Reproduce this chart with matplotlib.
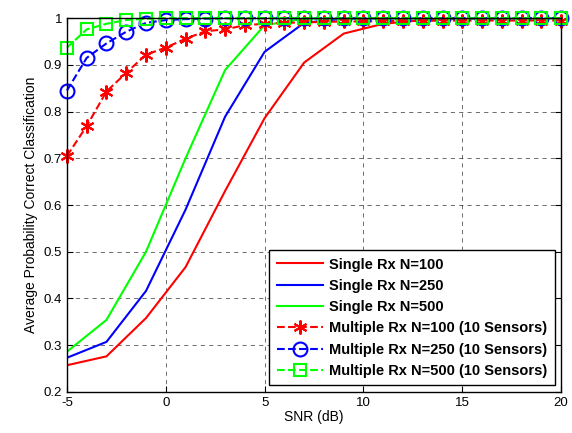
import numpy as np
import matplotlib
matplotlib.use("Agg")
import matplotlib.pyplot as plt

plt.rcParams["font.family"] = ["Liberation Sans", "DejaVu Sans"]
plt.rcParams["axes.unicode_minus"] = False

# single receiver curves, every 2 dB
snr_single = [-5, -3, -1, 1, 3, 5, 7, 9, 11, 13, 15, 17, 19]
single_100 = [0.257, 0.276, 0.358, 0.467, 0.630, 0.786, 0.905, 0.967, 0.988, 0.996, 0.999, 1.0, 1.0]
single_250 = [0.273, 0.307, 0.416, 0.590, 0.789, 0.928, 0.990, 0.999, 1.0, 1.0, 1.0, 1.0, 1.0]
single_500 = [0.286, 0.354, 0.500, 0.700, 0.889, 0.985, 0.999, 1.0, 1.0, 1.0, 1.0, 1.0, 1.0]

# multiple receivers (10 sensors), every 1 dB
snr_multi = list(range(-5, 21))
multi_100 = [0.705, 0.769, 0.843, 0.883, 0.922, 0.937, 0.956, 0.972, 0.976, 0.985, 0.988,
             0.990, 0.991, 0.992, 0.993, 0.993, 0.994, 0.994, 0.994, 0.995, 0.995,
             0.995, 0.995, 0.995, 0.995, 0.995]
multi_250 = [0.845, 0.915, 0.946, 0.971, 0.990, 0.996, 0.998, 0.999] + [1.0] * 18
multi_500 = [0.937, 0.976, 0.988, 0.996, 0.999] + [1.0] * 21

labels = ["Single Rx N=100", "Single Rx N=250", "Single Rx N=500",
          "Multiple Rx N=100 (10 Sensors)", "Multiple Rx N=250 (10 Sensors)",
          "Multiple Rx N=500 (10 Sensors)"]

red, blue, green = "#ff0000", "#0000ff", "#00ff00"
lws = 1.5

fig = plt.figure(figsize=(5.72, 4.33), dpi=100)
ax = fig.add_axes([0.117, 0.095, 0.864, 0.863])

ax.plot(snr_single, single_100, color=red, lw=lws, label=labels[0])
ax.plot(snr_single, single_250, color=blue, lw=lws, label=labels[1])
ax.plot(snr_single, single_500, color=green, lw=lws, label=labels[2])
ax.plot(snr_multi, multi_100, '--', color=red, lw=lws, marker=(6, 2, 0), ms=10, mew=1.5,
        label=labels[3], clip_on=False, zorder=3)
ax.plot(snr_multi, multi_250, '--', color=blue, lw=lws, marker='o', ms=10, mew=1.5,
        mfc='none', label=labels[4], clip_on=False, zorder=3)
ax.plot(snr_multi, multi_500, '--', color=green, lw=lws, marker='s', ms=8, mew=1.5,
        mfc='none', label=labels[5], clip_on=False, zorder=3)

ax.set_xlim(-5, 20)
ax.set_ylim(0.2, 1.0)
ax.set_xticks(np.arange(-5, 21, 5))
ax.set_yticks(np.arange(0.2, 1.01, 0.1))
ax.set_yticklabels(["0.2", "0.3", "0.4", "0.5", "0.6", "0.7", "0.8", "0.9", "1"])
ax.grid(True, color="black", linestyle=(0, (6, 6)), linewidth=0.5, alpha=0.8)
ax.tick_params(direction="in", top=True, right=True, labelsize=9.5, length=4)
for sp in ax.spines.values():
    sp.set_linewidth(1.0)
    sp.set_zorder(4)

ax.set_xlabel("SNR (dB)", fontsize=10, labelpad=1)
ax.set_ylabel("Average Probability Correct Classification", fontsize=10, labelpad=4)

leg = ax.legend(loc="lower right", fancybox=False, framealpha=1, edgecolor="black",
                prop={"weight": "bold", "size": 10.5}, handlelength=3.2,
                handletextpad=0.4, borderaxespad=0.45, labelspacing=0.5,
                borderpad=0.5)
leg.get_frame().set_linewidth(1.0)
leg.set_zorder(5)

fig.savefig("out.png", dpi=100)
